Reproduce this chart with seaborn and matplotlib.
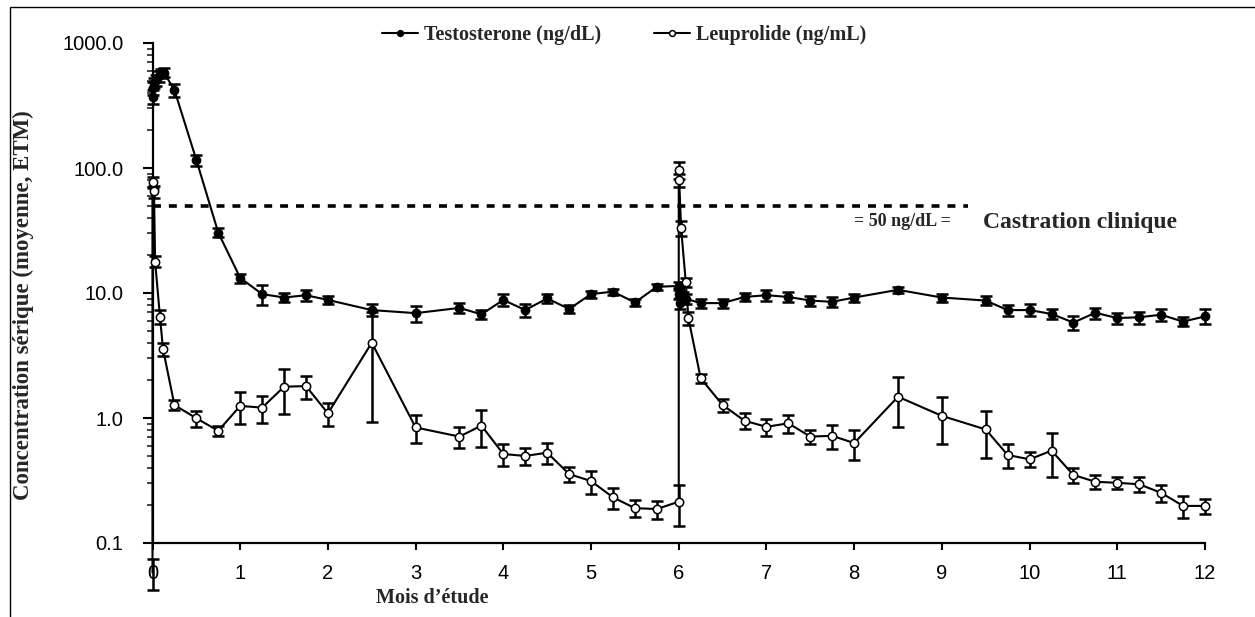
import numpy as np
import pandas as pd
import matplotlib
matplotlib.use("Agg")
import matplotlib.pyplot as plt
import matplotlib.ticker as mticker
from matplotlib.patches import Rectangle
import seaborn as sns

# ---------------- data ----------------
t_testo = [0.0, 0.01, 0.02, 0.04, 0.07, 0.10, 0.13, 0.25, 0.5, 0.75, 1.0, 1.25, 1.5, 1.75, 2.0,
           2.5, 3.0, 3.5, 3.75, 4.0, 4.25, 4.5, 4.75, 5.0, 5.25, 5.5, 5.75, 6.0, 6.005, 6.01,
           6.05, 6.08, 6.25, 6.5, 6.75, 7.0, 7.25, 7.5, 7.75, 8.0, 8.5, 9.0, 9.5, 9.75, 10.0,
           10.25, 10.5, 10.75, 11.0, 11.25, 11.5, 11.75, 12.0]
testo = [372, 436, 479, 506, 545, 575, 580, 421, 116, 30.4, 13.2, 9.8, 9.2, 9.6, 8.8,
         7.3, 6.9, 7.6, 6.75, 8.8, 7.3, 9.05, 7.45, 9.8, 10.25, 8.4, 11.2, 11.4, 9.9, 8.3,
         9.3, 9.0, 8.3, 8.3, 9.3, 9.6, 9.3, 8.7, 8.5, 9.2, 10.6, 9.2, 8.7, 7.3, 7.3,
         6.8, 5.8, 6.95, 6.3, 6.4, 6.7, 5.9, 6.5]
testo_sem = [45, 50, 45, 50, 55, 50, 50, 50, 12, 2.5, 1.1, 1.8, 0.8, 0.9, 0.7,
             0.8, 1.0, 0.7, 0.6, 1.0, 0.9, 0.8, 0.5, 0.6, 0.6, 0.6, 0.6, 0.8, 1.0, 0.8,
             0.9, 0.8, 0.7, 0.7, 0.7, 0.9, 0.9, 0.8, 0.8, 0.7, 0.6, 0.7, 0.7, 0.7, 0.8,
             0.6, 0.7, 0.7, 0.6, 0.7, 0.7, 0.5, 0.9]

t_leu = [0.0, 0.0, 0.017, 0.03, 0.085, 0.12, 0.25, 0.5, 0.75, 1.0, 1.25, 1.5, 1.75, 2.0,
         2.5, 3.0, 3.5, 3.75, 4.0, 4.25, 4.5, 4.75, 5.0, 5.25, 5.5, 5.75, 6.0, 6.0, 6.005,
         6.027, 6.08, 6.11, 6.25, 6.5, 6.75, 7.0, 7.25, 7.5, 7.75, 8.0, 8.5, 9.0, 9.5, 9.75,
         10.0, 10.25, 10.5, 10.75, 11.0, 11.25, 11.5, 11.75, 12.0]
leu = [0.058, 77, 65, 17.8, 6.46, 3.56, 1.27, 0.995, 0.79, 1.25, 1.21, 1.78, 1.80, 1.09,
       4.0, 0.84, 0.71, 0.87, 0.515, 0.497, 0.528, 0.356, 0.313, 0.232, 0.19, 0.187, 0.214, 97, 80,
       33, 12.2, 6.3, 2.08, 1.27, 0.95, 0.85, 0.907, 0.71, 0.72, 0.63, 1.48, 1.04, 0.81, 0.506,
       0.467, 0.548, 0.35, 0.309, 0.303, 0.295, 0.252, 0.198, 0.198]
leu_sem = [0.016, 8, 7, 1.8, 0.8, 0.45, 0.12, 0.15, 0.07, 0.35, 0.3, 0.7, 0.37, 0.22,
           3.07, 0.21, 0.13, 0.28, 0.1, 0.08, 0.1, 0.05, 0.065, 0.045, 0.03, 0.03, 0.077, 15, 9,
           4.5, 1.1, 0.75, 0.17, 0.15, 0.14, 0.13, 0.15, 0.095, 0.16, 0.17, 0.64, 0.42, 0.33, 0.11,
           0.065, 0.21, 0.05, 0.04, 0.035, 0.04, 0.038, 0.04, 0.028]

x_ticks = list(range(0, 13))
y_ticks = [0.1, 1.0, 10.0, 100.0, 1000.0]
y_ticklabels = ["0.1", "1.0", "10.0", "100.0", "1000.0"]
threshold = 50
threshold_end = 9.3

label_testo = "Testosterone (ng/dL)"
label_leu = "Leuprolide (ng/mL)"
xlabel = "Mois d\u2019étude"
ylabel = "Concentration sérique (moyenne, ETM)"
thr_text = "= 50 ng/dL ="
thr_label = "Castration clinique"

df_t = pd.DataFrame({"t": t_testo, "v": testo, "sem": testo_sem})
df_l = pd.DataFrame({"t": t_leu, "v": leu, "sem": leu_sem})

# ---------------- style ----------------
sns.set_theme(style="ticks")
plt.rcParams["font.family"] = ["Liberation Sans", "DejaVu Sans"]
serif = ["Liberation Serif", "DejaVu Serif"]

W, H = 1255, 617
fig = plt.figure(figsize=(W / 100, H / 100), dpi=100)
fig.patch.set_facecolor("white")
x0, x1, ytop, ybot = 152.5, 1205, 43, 543
ax = fig.add_axes([x0 / W, 1 - ybot / H, (x1 - x0) / W, (ybot - ytop) / H])
ax.set_facecolor("white")

# error bars
for d in (df_t, df_l):
    ax.errorbar(d["t"], d["v"], yerr=d["sem"], fmt="none", ecolor="black",
                elinewidth=1.8, capsize=4, capthick=1.8, clip_on=False, zorder=2)

sns.lineplot(data=df_t, x="t", y="v", estimator=None, sort=False, ax=ax,
             color="black", linewidth=1.5, marker="o", markersize=6,
             markerfacecolor="black", markeredgecolor="black", markeredgewidth=1,
             label=label_testo, clip_on=False, zorder=3)
sns.lineplot(data=df_l, x="t", y="v", estimator=None, sort=False, ax=ax,
             color="black", linewidth=1.5, marker="o", markersize=6,
             markerfacecolor="white", markeredgecolor="black", markeredgewidth=1.1,
             markevery=list(range(1, len(df_l))),
             label=label_leu, clip_on=False, zorder=3)

ax.hlines(threshold, 0, threshold_end, colors="black", linewidth=2.6,
          linestyles=(0, (2.2, 2.2)), zorder=1)

ax.set_yscale("log")
ax.set_ylim(0.1, 1000)
ax.set_xlim(0, 12)
ax.set_xticks(x_ticks)
ax.set_xticklabels([str(v) for v in x_ticks], fontsize=14.5)
ax.set_yticks(y_ticks)
ax.set_yticklabels(y_ticklabels, fontsize=14.5)
ax.yaxis.set_minor_locator(mticker.LogLocator(base=10, subs=np.arange(2, 10)))
ax.yaxis.set_minor_formatter(mticker.NullFormatter())
ax.set_xlabel("")
ax.set_ylabel("")
ax.xaxis.set_zorder(4)

for s in ("top", "right"):
    ax.spines[s].set_visible(False)
for s in ("left", "bottom"):
    ax.spines[s].set_linewidth(1.6)
    ax.spines[s].set_color("black")
ax.tick_params(axis="y", which="major", length=7, width=1.5, direction="out", pad=14, colors="black")
ax.tick_params(axis="y", which="minor", length=4, width=1.2, direction="out")
ax.tick_params(axis="x", which="major", length=5, width=1.5, direction="out", pad=10, colors="black")

leg = ax.legend(loc="center", bbox_to_anchor=(624 / W, 1 - 35 / H), bbox_transform=fig.transFigure,
                ncol=2, frameon=False, handlelength=1.8, handletextpad=0.3, columnspacing=2.6,
                markerscale=0.7, prop={"family": serif, "weight": "bold", "size": 14.5})

fig.text(902 / W, 1 - 221 / H, thr_text, ha="center", va="center",
         family=serif, weight="bold", fontsize=13)
fig.text(1080 / W, 1 - 222 / H, thr_label, ha="center", va="center",
         family=serif, weight="bold", fontsize=17)
fig.text(432 / W, 1 - 598 / H, xlabel, ha="center", va="center",
         family=serif, weight="bold", fontsize=14.5)
fig.text(23 / W, 1 - 305 / H, ylabel, ha="center", va="center", rotation=90,
         family=serif, weight="bold", fontsize=16.5)

fig.patches.append(Rectangle((10 / W, -0.5), 2.0, 0.5 + 1 - 7 / H, transform=fig.transFigure,
                             fill=False, edgecolor="black", linewidth=1.0))

fig.savefig("out.png", dpi=100, facecolor="white")
